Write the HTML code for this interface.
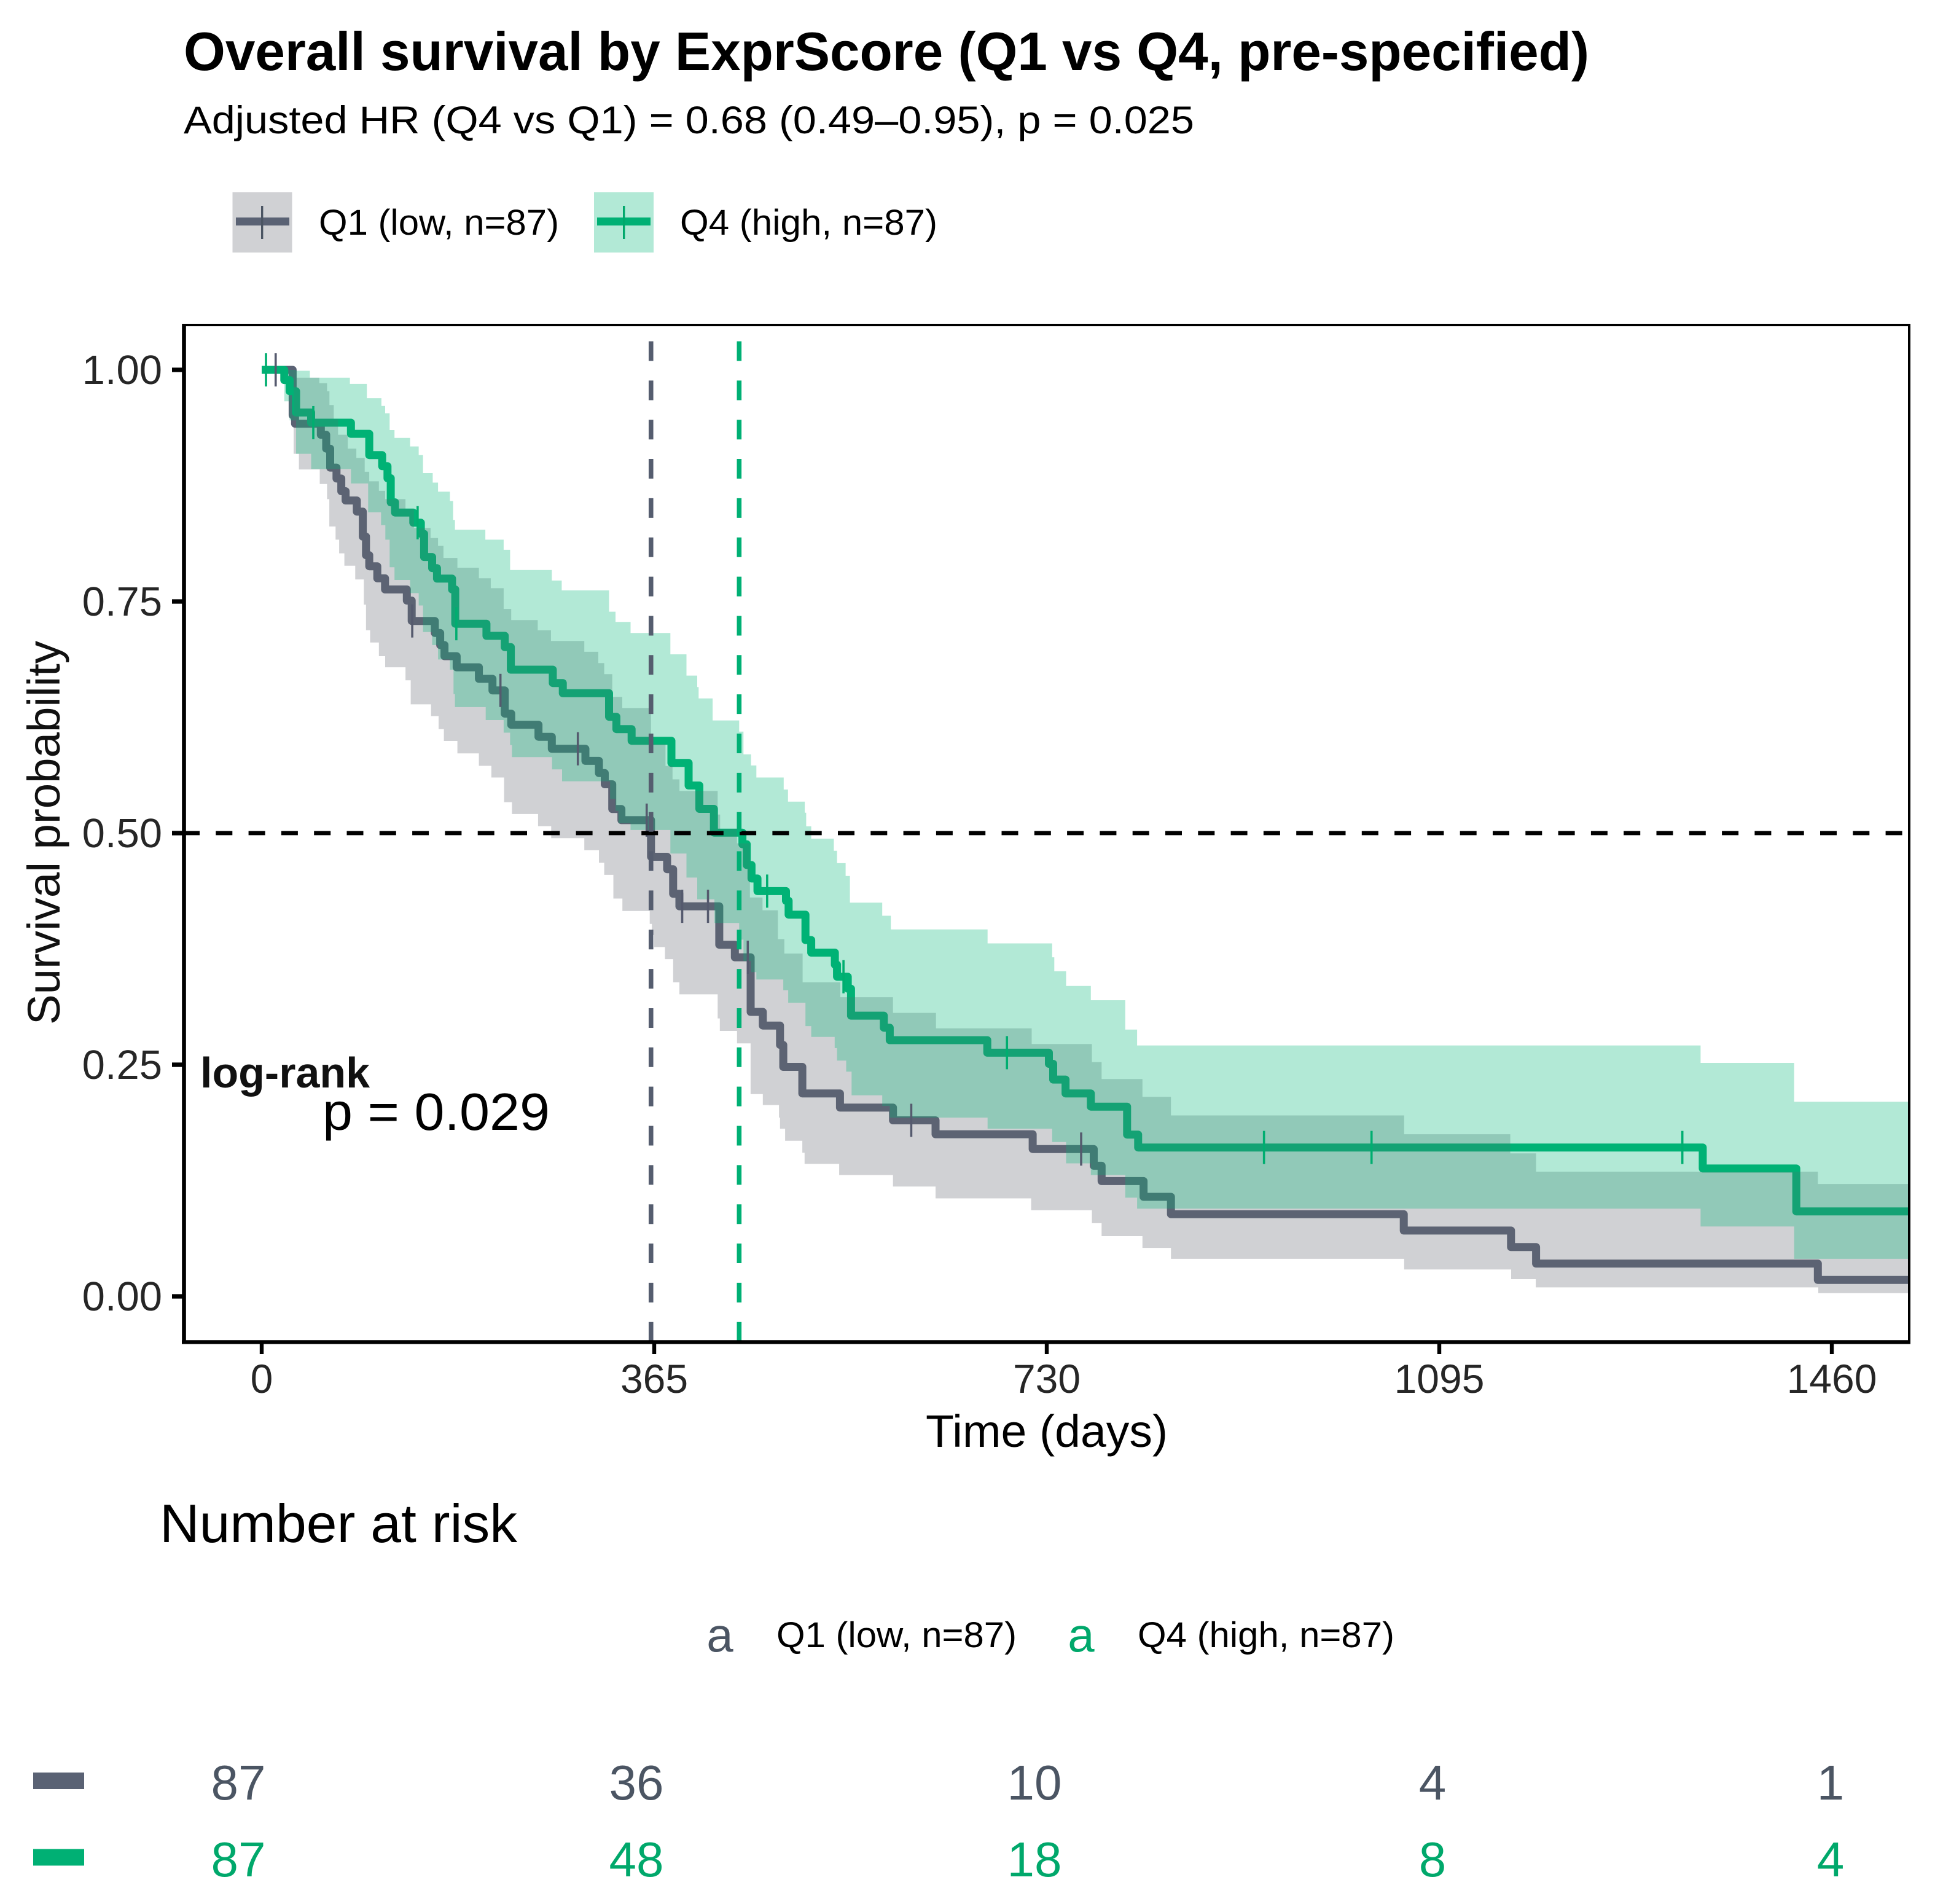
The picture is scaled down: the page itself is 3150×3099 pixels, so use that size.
<!DOCTYPE html>
<html lang="en">
<head>
<meta charset="utf-8">
<title>Overall survival by ExprScore</title>
<style>
html,body{margin:0;padding:0;background:#fff;}
svg{display:block;}
text{font-family:"Liberation Sans",Arial,sans-serif;}
</style>
</head>
<body>
<svg id="chart" xmlns="http://www.w3.org/2000/svg" width="3150" height="3099" viewBox="0 0 3150 3099">
  <rect x="0" y="0" width="3150" height="3099" fill="#ffffff"/>
  <text x="299" y="114" font-size="88" font-weight="bold" fill="#000" textLength="2288" lengthAdjust="spacingAndGlyphs">Overall survival by ExprScore (Q1 vs Q4, pre-specified)</text>
  <text x="299" y="217" font-size="63" fill="#000" textLength="1645" lengthAdjust="spacingAndGlyphs">Adjusted HR (Q4 vs Q1) = 0.68 (0.49–0.95), p = 0.025</text>

  <g>
    <g>
      <rect x="378.5" y="313" width="97" height="98" fill="#636672" fill-opacity="0.3"/>
      <rect x="384" y="354" width="87" height="13" fill="#5a6274"/>
      <rect x="425" y="335" width="3.4" height="54" fill="#4b5563"/>
      <text x="519" y="382" font-size="58" fill="#000" textLength="391" lengthAdjust="spacingAndGlyphs">Q1 (low, n=87)</text>
    </g>
    <g>
      <rect x="967" y="313" width="97" height="98" fill="#00b676" fill-opacity="0.3"/>
      <rect x="972" y="354" width="87" height="13" fill="#00b074"/>
      <rect x="1014" y="335" width="3.4" height="54" fill="#00a86b"/>
      <text x="1107" y="382" font-size="58" fill="#000" textLength="419" lengthAdjust="spacingAndGlyphs">Q4 (high, n=87)</text>
    </g>
  </g>

  <defs>
    <clipPath id="panel-clip"><rect x="299" y="529" width="2809" height="1655"/></clipPath>
  </defs>
  <g id="plot-marks" clip-path="url(#panel-clip)"></g>
  <rect x="299" y="529" width="2809" height="1655" fill="none" stroke="#000" stroke-width="4"/>
  <g id="axes"></g>

  <text transform="translate(97,1355.5) rotate(-90)" text-anchor="middle" font-size="74" fill="#111" textLength="625" lengthAdjust="spacingAndGlyphs">Survival probability</text>
  <text x="1704" y="2355" text-anchor="middle" font-size="74" fill="#000" textLength="394" lengthAdjust="spacingAndGlyphs">Time (days)</text>

  <text x="326" y="1770" font-size="70" font-weight="bold" fill="#111" textLength="276" lengthAdjust="spacingAndGlyphs">log-rank</text>
  <text x="525" y="1839" font-size="85" fill="#000" textLength="370" lengthAdjust="spacingAndGlyphs">p = 0.029</text>

  <text x="260" y="2510" font-size="88" fill="#000" textLength="582" lengthAdjust="spacingAndGlyphs">Number at risk</text>
  <g>
    <text x="1172" y="2688" text-anchor="middle" font-size="78" fill="#4b5563">a</text>
    <text x="1264" y="2681" font-size="58" fill="#000" textLength="391" lengthAdjust="spacingAndGlyphs">Q1 (low, n=87)</text>
    <text x="1760" y="2688" text-anchor="middle" font-size="78" fill="#00a86b">a</text>
    <text x="1852" y="2681" font-size="58" fill="#000" textLength="418" lengthAdjust="spacingAndGlyphs">Q4 (high, n=87)</text>
  </g>
  <rect x="54" y="2885" width="83" height="27" fill="#5a6274"/>
  <rect x="54" y="3009.5" width="83" height="27" fill="#00b074"/>
  <g id="risk-table"></g>
</svg>

<script>
// ---- data ----
const q1Time = [0,28.8,31,55,60,63.7,69.6,74,78,88.5,94,97,100,107.5,114.7,135,139.5,161,166,170,181.3,202,214.6,226,232,257.4,269.8,301,313.6,319,326,334.5,362,377,382.6,388.4,425.5,440,454.7,466,482,485,502.7,537.7,587,626.6,716.9,773.7,781,820,845.5,1062,1161.7,1185,1447,1531];
const q1Surv = [1,.951,.9419,.93,.915,.8945,.8827,.869,.859,.847,.82,.8,.788,.775,.763,.751,.729,.716,.703,.691,.679,.6665,.654,.629,.617,.604,.591,.578,.5648,.5527,.526,.514,.4745,.461,.4345,.421,.3795,.366,.307,.2923,.2714,.2477,.219,.2038,.19,.175,.159,.141,.1244,.1074,.0887,.071,.0532,.0354,.0177,.0177];
const q4Time = [0,21,26,32,46,83,100,112,117,120,124,141,148,151,158.5,163,177,180,209,226,231.7,270.7,280,323,329.8,344,381,397,407,420.5,447,451,455.5,461,487.5,490,505.6,511,533,535,545,548,578.5,584,674.7,732,736,747.5,771,804.7,815,1340,1427,1531];
const q4Surv = [1,.989,.977,.954,.943,.931,.908,.896,.883,.857,.846,.835,.823,.798,.786,.7747,.763,.726,.7129,.7007,.6764,.662,.651,.6256,.6123,.5997,.5757,.5514,.5262,.5005,.488,.4656,.451,.4374,.427,.412,.3846,.371,.358,.345,.332,.303,.29,.2765,.263,.251,.234,.219,.2048,.1746,.1607,.138,.0917,.0917];

const q1UpperTime = [0,28.8,31.7,53.6,60.8,63,67,71,80,88,95.8,100,109,114.8,133.7,141.6,149.7,157,164,169,182,202,213,225,232,256.7,269,300,313,318.5,326,335.3,362,375.5,382,388.5,424,426.3,442,454,465.7,480,486,503,538,587,627,716,772,781,819,845.5,1062.3,1161,1185,1447,1531];
const q1UpperProb = [1,.999,.9916,.9857,.977,.962,.947,.93,.915,.905,.8900,.8797,.8694,.8605,.85,.8294,.8294,.8185,.81,.797,.7865,.775,.7643,.742,.73,.7189,.7074,.6957,.6835,.6716,.647,.635,.596,.5725,.558,.5455,.52,.5046,.489,.4306,.4167,.3856,.37,.339,.3229,.306,.2893,.2724,.2528,.2346,.2154,.1953,.175,.1544,.1346,.1213,.1213];
const q1LowerTime = [0,29.7,34.6,54,60.8,62.9,68.7,72,76.9,87,95,97,100.8,109,114.8,133.7,138.6,157.5,164.5,169.4,182,202,213.6,225.4,232.7,257,269.2,300,313.6,318.5,327,335.4,360.8,362.8,365,375,382.6,388.4,424,426,442,454.6,466,481,482,486.7,502.7,504.8,537,587,626.6,715.5,772,781,819,845.5,1062.3,1161.8,1184.7,1447.4,1531];
const q1LowerProb = [1,.9094,.8925,.8768,.8605,.831,.8167,.802,.7886,.7738,.7466,.719,.7057,.691,.679,.665,.639,.6263,.6123,.5995,.586,.5726,.56,.5334,.5206,.5074,.4945,.4815,.468,.455,.4294,.416,.402,.39,.377,.364,.339,.326,.30,.2865,.273,.2184,.2065,.193,.181,.168,.155,.143,.131,.1186,.1058,.093,.079,.065,.0523,.0405,.029,.0186,.0097,.0035,.0035];
const q4UpperTime = [0,21,32,44.8,82,97.8,111.3,114.8,119,123.5,138,146,150,159,164,175,178,179.7,208,225,231,269.8,279,323,329,343,380,395,405,406.3,419.3,444,448,455,460,485.4,489.4,505,506.3,511,532,535,543,547,577,585,675,735,737,748,771,803,814,1338,1425,1531];
const q4UpperProb = [1,1,.999,.9916,.9848,.9694,.961,.9532,.935,.9265,.9174,.908,.8886,.8783,.8685,.8585,.838,.8274,.8167,.8058,.784,.7726,.762,.739,.728,.716,.693,.67,.6576,.6454,.6216,.6096,.585,.573,.56,.547,.534,.522,.5073,.494,.481,.4676,.4537,.425,.4108,.396,.381,.366,.351,.335,.3196,.288,.2708,.252,.21,.21];
const q4LowerTime = [0,21,26,32,46,83,99,111,115,119,123.5,138,146,150,158.5,164,175,178.4,179.7,208.3,225,231,232.7,270,279.3,324,329,331.7,343,380,395,405,421,444,448,455,460,485,489.6,505.6,511,532.8,535,543.5,548.5,577,584,675,735,748,771,803,814,1338,1425,1531];
const q4LowerProb = [1,.966,.9455,.9094,.893,.8774,.8463,.8324,.8167,.787,.7732,.759,.7457,.717,.703,.6874,.6764,.65,.636,.622,.6084,.595,.582,.5688,.556,.537,.524,.5107,.5034,.478,.452,.4286,.403,.385,.362,.35,.342,.3305,.317,.2917,.28,.268,.2545,.2426,.217,.2055,.193,.181,.1666,.1436,.131,.1065,.0946,.0754,.0405,.0405];

const q1Censor = [13,140,222,294,358,391,415,452,604,762];
const q4Censor = [4,48,145,181,470,541,693,932,1032,1321];
const medianTimes = [362,444];
const medianColors = ['#555d6f','#00b074'];
const referenceSurvival = 0.5;

const xTicks = [0,365,730,1095,1460];
const xTickLabels = ['0','365','730','1095','1460'];
const yTicks = [0,0.25,0.5,0.75,1];
const yTickLabels = ['0.00','0.25','0.50','0.75','1.00'];

const riskTimes = [0,365,730,1095,1460];
const riskQ1 = [87,36,10,4,1];
const riskQ4 = [87,48,18,8,4];

// ---- scales ----
function xScale(t){ return 426 + 1.7507 * t; }
function yScale(s){ return 2110 - 1508 * s; }
function riskX(t){ return 388 + t * 1.7753; }

const NS = 'http://www.w3.org/2000/svg';
function make(tag, parent, attrs){
  const el = document.createElementNS(NS, tag);
  for (const k in attrs) el.setAttribute(k, attrs[k]);
  parent.appendChild(el);
  return el;
}
function stepForward(times, vals){
  let d = '';
  for (let i = 0; i < times.length; i++){
    if (i === 0) d += 'M' + xScale(times[i]).toFixed(1) + ' ' + yScale(vals[i]).toFixed(1);
    else d += 'H' + xScale(times[i]).toFixed(1) + 'V' + yScale(vals[i]).toFixed(1);
  }
  return d;
}
function ribbonPath(uT, uV, lT, lV){
  let d = stepForward(uT, uV);
  for (let i = lT.length - 1; i >= 0; i--){
    d += 'L' + xScale(lT[i]).toFixed(1) + ' ' + yScale(lV[i]).toFixed(1);
    if (i > 0) d += 'L' + xScale(lT[i]).toFixed(1) + ' ' + yScale(lV[i-1]).toFixed(1);
  }
  return d + 'Z';
}
function survAt(times, vals, t){
  let v = vals[0];
  for (let i = 0; i < times.length; i++){ if (times[i] <= t) v = vals[i]; }
  return v;
}

const plot = document.getElementById('plot-marks');

// lines sit under the ribbons, as in the reference
const lineQ1 = make('path', plot, {d: stepForward(q1Time, q1Surv), fill:'none', stroke:'#5a6274', 'stroke-width':13, 'stroke-linejoin':'round'});


const lineQ4 = make('path', plot, {d: stepForward(q4Time, q4Surv), fill:'none', stroke:'#00b074', 'stroke-width':13, 'stroke-linejoin':'round'});



const ribbonQ1 = make('path', plot, {d: ribbonPath(q1UpperTime, q1UpperProb, q1LowerTime, q1LowerProb), fill:'#636672', 'fill-opacity':0.3});


const ribbonQ4 = make('path', plot, {d: ribbonPath(q4UpperTime, q4UpperProb, q4LowerTime, q4LowerProb), fill:'#00b676', 'fill-opacity':0.3});



q1Censor.forEach(function(t){
  const s = survAt(q1Time, q1Surv, t);
  const m = make('line', plot, {x1:xScale(t), x2:xScale(t), y1:yScale(s)-27, y2:yScale(s)+27, stroke:'#555a6e', 'stroke-width':3.6});
  
  
});
q4Censor.forEach(function(t){
  const s = survAt(q4Time, q4Surv, t);
  const m = make('line', plot, {x1:xScale(t), x2:xScale(t), y1:yScale(s)-27, y2:yScale(s)+27, stroke:'#00ae70', 'stroke-width':3.6});
  
  
});

const refLine = make('line', plot, {x1:298, x2:3110, y1:yScale(referenceSurvival), y2:yScale(referenceSurvival), stroke:'#000', 'stroke-width':6.8, 'stroke-dasharray':'27 26.3'});


medianTimes.forEach(function(t, i){
  const v = make('line', plot, {x1:xScale(t), x2:xScale(t), y1:555.5 - 63.85, y2:2184, stroke:medianColors[i], 'stroke-width':7.6, 'stroke-dasharray':'32 31.85'});
  
  
});

// axes
const axes = document.getElementById('axes');
const axisLeft = make('line', axes, {x1:299.5, x2:299.5, y1:527, y2:2187.5, stroke:'#000', 'stroke-width':6.6});


const axisBottom = make('line', axes, {x1:296, x2:3110, y1:2184.4, y2:2184.4, stroke:'#000', 'stroke-width':6.4});



xTicks.forEach(function(t, i){
  const x = xScale(t);
  const tick = make('line', axes, {x1:x, x2:x, y1:2184, y2:2204, stroke:'#000', 'stroke-width':6.4});
  
  
  const lab = make('text', axes, {x:x, y:2267, 'text-anchor':'middle', 'font-size':66, fill:'#262626'});
  
  
  lab.textContent = xTickLabels[i];
});
yTicks.forEach(function(s, i){
  const y = yScale(s);
  const tick = make('line', axes, {x1:280, x2:299, y1:y, y2:y, stroke:'#000', 'stroke-width':7.2});
  
  
  const lab = make('text', axes, {x:264, y:y+23, 'text-anchor':'end', 'font-size':67, fill:'#262626'});
  
  
  lab.textContent = yTickLabels[i];
});

// risk table
const risk = document.getElementById('risk-table');
riskTimes.forEach(function(t, i){
  const a = make('text', risk, {x:riskX(t), y:2929, 'text-anchor':'middle', 'font-size':80, fill:'#4b5563'});
  
  
  a.textContent = riskQ1[i];
  const b = make('text', risk, {x:riskX(t), y:3054, 'text-anchor':'middle', 'font-size':80, fill:'#00a86b'});
  
  
  b.textContent = riskQ4[i];
});
</script>
</body>
</html>
